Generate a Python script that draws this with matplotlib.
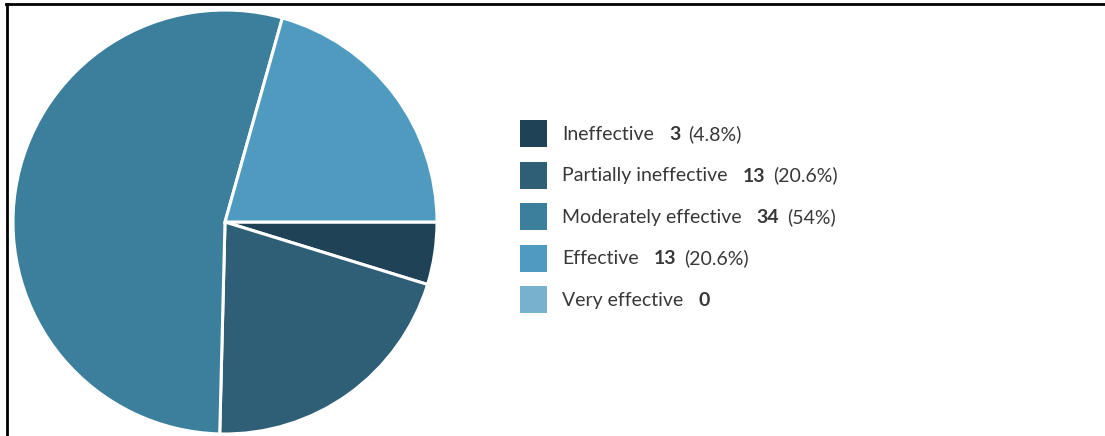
import matplotlib
matplotlib.use("Agg")
import matplotlib.pyplot as plt
from matplotlib.patches import Rectangle
from matplotlib.lines import Line2D

categories = ["Ineffective", "Partially ineffective", "Moderately effective",
              "Effective", "Very effective"]
counts = [3, 13, 34, 13, 0]
percent_labels = ["(4.8%)", "(20.6%)", "(54%)", "(20.6%)", ""]
colors = ["#1f4256", "#2e5f77", "#3c7f9d", "#4f9bbf", "#76b1cd"]

W, H = 1105, 436
plt.rcParams["font.family"] = ["Lato", "DejaVu Sans"]
fig = plt.figure(figsize=(W / 100, H / 100), dpi=100)
fig.patch.set_facecolor("white")

# pie axes placed in pixel units
cx, cy, r = 225, 222, 212
ax = fig.add_axes([(cx - r) / W, (H - cy - r) / H, 2 * r / W, 2 * r / H])
nz = [(v, c) for v, c in zip(counts, colors) if v > 0]
ax.pie([v for v, _ in nz], colors=[c for _, c in nz], startangle=0,
       counterclock=False, radius=1.0,
       wedgeprops=dict(edgecolor="white", linewidth=2.2))
ax.set_xlim(-1, 1)
ax.set_ylim(-1, 1)
ax.set_aspect("equal")
ax.axis("off")

# frame lines along the top and left
fig.add_artist(Line2D([6 / W, 1.0], [1 - 4.5 / H, 1 - 4.5 / H],
                      transform=fig.transFigure, color="black", lw=2.0))
fig.add_artist(Line2D([6.5 / W, 6.5 / W], [0, 1 - 4.5 / H],
                      transform=fig.transFigure, color="black", lw=2.0))

# legend
renderer = fig.canvas.get_renderer()
sq_x, sq = 520, 27
row_y = [133.5, 175, 216.5, 258, 299.5]
text_x = 562
fs = 14
tc = "#383838"
for name, n, pct, col, y in zip(categories, counts, percent_labels, colors, row_y):
    fig.add_artist(Rectangle(((sq_x) / W, (H - y - sq / 2) / H), sq / W, sq / H,
                             transform=fig.transFigure, facecolor=col,
                             edgecolor="none"))
    base = (H - y - 6.5) / H
    t1 = fig.text(text_x / W, base, name, fontsize=fs, color=tc,
                  va="baseline")
    bb = t1.get_window_extent(renderer)
    x2 = bb.x1 + 15
    t2 = fig.text(x2 / W, base, str(n), fontsize=fs, color=tc,
                  va="baseline", fontweight="bold")
    if pct:
        bb2 = t2.get_window_extent(renderer)
        fig.text((bb2.x1 + 8) / W, base, pct, fontsize=fs, color=tc,
                 va="baseline")

fig.savefig("out.png", dpi=100, facecolor="white")
